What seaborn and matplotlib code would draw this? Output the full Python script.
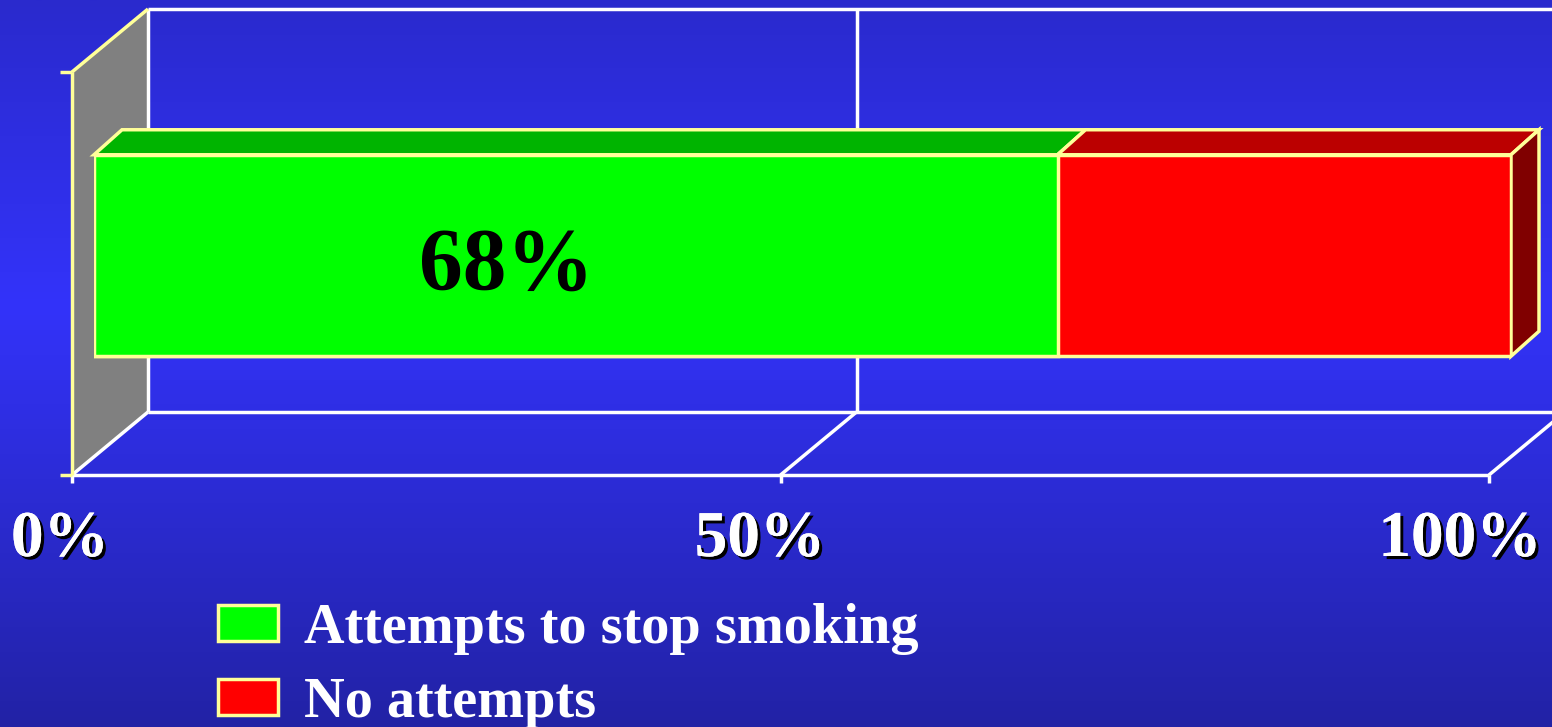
import numpy as np
import matplotlib
matplotlib.use("Agg")
import matplotlib.pyplot as plt
import matplotlib.patheffects as pe
from matplotlib.patches import Polygon, Patch
import seaborn as sns

# --- data ---
categories = ["Attempts to stop smoking", "No attempts"]
shares = [68, 32]
bar_colors = ["#00ff00", "#ff0000"]
top_colors = ["#00b400", "#bb0000"]
side_color = "#800000"
tick_values = [0, 50, 100]
tick_labels = ["0%", "50%", "100%"]

W, H, DPI = 1552, 727, 100
EDGE = "#ffff99"
GRID = "white"
WALL = "#808080"

# depth planes in pixels (dx right, dy down) relative to the bar front face
FRONT = (-22, 18)
BAR_BACK = (28, -25)
BACK = (54, -45)

sns.set_theme(style="white")
plt.rcParams["font.family"] = ["Liberation Serif", "DejaVu Serif"]

fig = plt.figure(figsize=(W / DPI, H / DPI), dpi=DPI)

# --- background gradient ---
bg = fig.add_axes([0, 0, 1, 1], zorder=-10)
t = np.linspace(0, 1, 500)
stops = [0.0, 0.42, 1.0]
r = np.interp(t, stops, [42, 51, 34])
g = np.interp(t, stops, [42, 51, 34])
b = np.interp(t, stops, [205, 250, 165])
grad = np.stack([r, g, b], axis=1)[:, None, :] / 255.0
bg.imshow(grad, aspect="auto", extent=[0, 1, 0, 1], origin="upper")
bg.axis("off")

# --- main axes, in the plane of the bar's front face ---
ax = fig.add_axes([94 / W, (H - 457) / H, 1417 / W, 403 / H])
ax.patch.set_alpha(0)
px_x = 1417 / 100
px_y = 403 / 1.6


def shift(x, y, plane):
    return x + plane[0] / px_x, y + plane[1] / px_y


def line(p0, p1, color, lw=2.5, z=2):
    ax.plot([p0[0], p1[0]], [p0[1], p1[1]], color=color, lw=lw,
            solid_capstyle="butt", clip_on=False, zorder=z)


# left wall
wall = [shift(0, -0.8, FRONT), shift(0, 0.8, FRONT),
        shift(0, 0.8, BACK), shift(0, -0.8, BACK)]
ax.add_patch(Polygon(wall, closed=True, facecolor=WALL, edgecolor="none",
                     clip_on=False, zorder=1))

# back wall and floor grid
line(shift(0, -0.8, BACK), shift(110, -0.8, BACK), GRID)
line(shift(0, 0.8, BACK), shift(110, 0.8, BACK), GRID)
for v in tick_values:
    line(shift(v, -0.8, BACK), shift(v, 0.8, BACK), GRID)
    line(shift(v, 0.8, FRONT), shift(v, 0.8, BACK), GRID)
    fx, fy = shift(v, 0.8, FRONT)
    line((fx, fy), (fx, fy + 8 / px_y), GRID)
line(shift(0, 0.8, FRONT), shift(100, 0.8, FRONT), GRID)

# wall edges and ticks (yellow)
line(shift(0, -0.8, FRONT), shift(0, 0.8, FRONT), EDGE, z=3)
line(shift(0, -0.8, FRONT), shift(0, -0.8, BACK), EDGE, z=3)
for yv in (-0.8, 0.8):
    fx, fy = shift(0, yv, FRONT)
    line((fx - 12 / px_x, fy), (fx, fy), EDGE, z=3)

# --- stacked bar: front faces through seaborn ---
cum = np.cumsum(shares)
for i in reversed(range(len(shares))):
    sns.barplot(x=[cum[i]], y=["smokers"], orient="h", color=bar_colors[i],
                saturation=1, width=0.8, edgecolor=EDGE, linewidth=2.5,
                ax=ax, zorder=6)

# top faces and right side
for i in range(len(shares)):
    left, right = cum[i] - shares[i], cum[i]
    top = [(left, -0.4), (right, -0.4),
           shift(right, -0.4, BAR_BACK), shift(left, -0.4, BAR_BACK)]
    ax.add_patch(Polygon(top, closed=True, facecolor=top_colors[i],
                         edgecolor=EDGE, lw=2.5, clip_on=False, zorder=5))
side = [(cum[-1], -0.4), (cum[-1], 0.4),
        shift(cum[-1], 0.4, BAR_BACK), shift(cum[-1], -0.4, BAR_BACK)]
ax.add_patch(Polygon(side, closed=True, facecolor=side_color,
                     edgecolor=EDGE, lw=2.5, clip_on=False, zorder=5))

ax.set_xlim(0, 100)
ax.set_ylim(0.8, -0.8)
ax.axis("off")

# value label
ax.text(29.1, 0.045, f"{shares[0]}%", ha="center", va="center",
        fontsize=63, fontweight="bold", color="black", zorder=8)

# x tick labels with shadow (label row is a touch narrower than the axis)
shadow = [pe.withSimplePatchShadow(offset=(2.2, -2.2), shadow_rgbFace="black",
                                   alpha=1), pe.Normal()]
for v, lab in zip(tick_values, tick_labels):
    lx = (v * 14.0 + 60 - 94) / px_x
    ax.text(lx, 0.8 + 83 / px_y, lab, ha="center", va="center",
            fontsize=47, fontweight="bold", color="white",
            path_effects=shadow, clip_on=False)

# legend
handles = [Patch(facecolor=c, edgecolor=EDGE, linewidth=2.5) for c in bar_colors]
leg = fig.legend(handles, categories, loc="upper left",
                 bbox_to_anchor=(218 / W, 1 - 603 / H), frameon=False,
                 prop={"size": 40.5, "weight": "bold"}, labelcolor="white",
                 handlelength=1.07, handleheight=0.62, handletextpad=0.45,
                 labelspacing=0.39, borderpad=0, borderaxespad=0)

fig.savefig("out.png", dpi=DPI)
